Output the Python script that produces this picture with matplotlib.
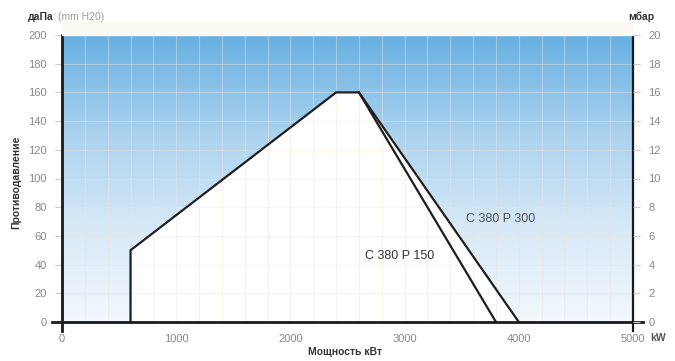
import numpy as np
import matplotlib
matplotlib.use("Agg")
import matplotlib.pyplot as plt
from matplotlib.colors import LinearSegmentedColormap

# Data
env_x = [600, 600, 2400, 2600]          # kW
env_y = [0, 50, 160, 160]               # daPa
p150_end = 3800
p300_end = 4000
x_ticks = [0, 1000, 2000, 3000, 4000, 5000]
y_ticks = list(range(0, 201, 20))
mbar_ticks = list(range(0, 21, 2))
label_p300 = "C 380 P 300"
label_p150 = "C 380 P 150"

plt.rcParams['font.family'] = ['Liberation Sans', 'DejaVu Sans']

W, H = 675, 361
fig = plt.figure(figsize=(W / 100, H / 100), dpi=100)
fig.patch.set_facecolor('white')
x0, x1, yt, yb = 62, 633, 35, 322
ax = fig.add_axes([x0 / W, 1 - yb / H, (x1 - x0) / W, (yb - yt) / H])
ax.set_xlim(0, 5000)
ax.set_ylim(0, 200)
for s in ax.spines.values():
    s.set_visible(False)

# cream band above the plot
fig.patches.append(plt.Rectangle((x0 / W, 1 - yt / H), (x1 - x0) / W, 13 / H,
                                 transform=fig.transFigure, color='#fcfaf2', zorder=0))

# gradient background
cmap = LinearSegmentedColormap.from_list('bg', ['#f3f8fc', '#d6e9f7', '#a9d1ee', '#66b0e2'])
grad = np.linspace(0, 1, 256).reshape(-1, 1)
ax.imshow(grad, extent=[0, 5000, 0, 200], origin='lower', aspect='auto', cmap=cmap, zorder=0)

# white envelope (P300 outline)
px = env_x + [p300_end]
py = env_y + [0]
ax.fill(px, py, color='white', zorder=1)

# grid
for gx in range(200, 5000, 200):
    ax.plot([gx, gx], [0, 200], color='#eee4da', lw=0.8, alpha=0.45, zorder=2)
for gy in range(20, 200, 20):
    ax.plot([0, 5000], [gy, gy], color='#eee4da', lw=0.8, alpha=0.45, zorder=2)

# curves
ax.plot(env_x + [p150_end], env_y + [0], color='#1e1e1e', lw=1.6, zorder=4, solid_joinstyle='miter')
ax.plot([env_x[-1], p300_end], [env_y[-1], 0], color='#1e1e1e', lw=1.6, zorder=4)

# axis lines
ax.plot([0, 0], [-6, 200], color='#1a1a1a', lw=2, clip_on=False, zorder=5)
ax.plot([5000, 5000], [-6, 200], color='#1a1a1a', lw=1.6, clip_on=False, zorder=5)
ax.plot([-85, 5090], [0, 0], color='#1a1a1a', lw=2, clip_on=False, zorder=5)

# ticks
ax.set_xticks(x_ticks)
ax.set_xticklabels([str(v) for v in x_ticks])
ax.set_yticks(y_ticks)
ax.set_yticklabels([str(v) for v in y_ticks])
ax.tick_params(axis='both', colors='#cccccc', labelcolor='#888888', labelsize=8, length=5, width=0.8)
ax.tick_params(axis='y', pad=6)
ax.tick_params(axis='x', pad=9, length=0)

ax2 = ax.twinx()
ax2.set_ylim(0, 20)
for s in ax2.spines.values():
    s.set_visible(False)
ax2.set_yticks(mbar_ticks)
ax2.set_yticklabels([str(v) for v in mbar_ticks])
ax2.tick_params(axis='y', colors='#cccccc', labelcolor='#888888', labelsize=8, length=5, width=0.8, pad=6)

# curve labels
ax.text(3840, 72, label_p300, fontsize=9, color='#555555', ha='center', va='center', zorder=6)
ax.text(2960, 46, label_p150, fontsize=9, color='#333333', ha='center', va='center', zorder=6)

# axis titles
fig.text(28 / W, 1 - 17 / H, "даПа", fontsize=7.5, fontweight='bold', color='#333333', va='center')
fig.text(58 / W, 1 - 17 / H, "(mm H20)", fontsize=7.5, color='#999999', va='center')
fig.text(654 / W, 1 - 17 / H, "мбар", fontsize=7.5, fontweight='bold', color='#333333', va='center', ha='right')
fig.text(16 / W, 1 - 182 / H, "Противодавление", fontsize=7.5, fontweight='bold', color='#333333',
         rotation=90, va='center', ha='center')
fig.text(345 / W, 1 - 352 / H, "Мощность кВт", fontsize=7.5, fontweight='bold', color='#333333',
         va='center', ha='center')
fig.text(650 / W, 1 - 338 / H, "kW", fontsize=7.5, fontweight='bold', color='#555555', va='center')

fig.savefig('out.png', dpi=100)
